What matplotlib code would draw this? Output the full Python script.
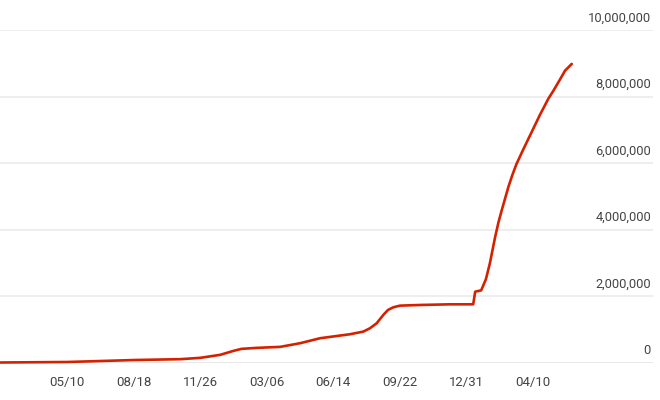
import pandas as pd
import numpy as np
import matplotlib.pyplot as plt
import matplotlib.dates as mdates

# cumulative total (millions)
dates = ['2020-01-31', '2020-05-10', '2020-08-20', '2020-10-27', '2020-11-26',
         '2020-12-26', '2021-01-15', '2021-01-27', '2021-02-19', '2021-03-26',
         '2021-04-25', '2021-05-25', '2021-06-24', '2021-07-09', '2021-07-29',
         '2021-08-08', '2021-08-18', '2021-08-28', '2021-09-04', '2021-09-12',
         '2021-09-22', '2021-10-22', '2021-12-06', '2022-01-10', '2022-01-13',
         '2022-01-22', '2022-01-29', '2022-02-04', '2022-02-12', '2022-02-17',
         '2022-02-22', '2022-03-04', '2022-03-10', '2022-03-16', '2022-03-26',
         '2022-04-08', '2022-04-20', '2022-05-03', '2022-05-10', '2022-05-20',
         '2022-05-28', '2022-06-07']
values_m = [0.0, 0.015, 0.075, 0.10, 0.14,
            0.23, 0.35, 0.41, 0.44, 0.47,
            0.58, 0.73, 0.81, 0.85, 0.93,
            1.03, 1.18, 1.43, 1.58, 1.66,
            1.71, 1.73, 1.75, 1.75, 2.13,
            2.17, 2.50, 2.98, 3.78, 4.22,
            4.59, 5.29, 5.65, 5.97, 6.40,
            6.94, 7.44, 7.94, 8.16, 8.50,
            8.78, 8.98]

tick_dates = ['2020-05-10', '2020-08-18', '2020-11-26', '2021-03-06',
              '2021-06-14', '2021-09-22', '2021-12-31', '2022-04-10']
y_ticks = [0, 2000000, 4000000, 6000000, 8000000, 10000000]

x = pd.to_datetime(dates)
y = np.array(values_m) * 1e6

fam = ['Roboto', 'DejaVu Sans']
txt_color = '#444444'

fig = plt.figure(figsize=(6.6, 4), dpi=100)
ax = fig.add_axes([0, 37.5 / 400, 653 / 660, 332.5 / 400])

ax.plot(x, y, color='#d62100', lw=1.9, solid_joinstyle='round',
        solid_capstyle='round', clip_on=False, zorder=3)

ref = pd.Timestamp('2020-05-10')
ax.set_xlim(ref - pd.Timedelta(days=100.6), ref + pd.Timedelta(days=880))
ax.set_ylim(0, 10000000)

ax.set_yticks(y_ticks)
ax.grid(axis='y', color='#ebebeb', lw=1.2)
ax.axhline(0, color='#d9d9d9', lw=1.4, zorder=1)
ax.tick_params(axis='y', length=0, labelleft=False)
for v in y_ticks:
    ax.annotate(f'{v:,}', xy=(651 / 653, v), xycoords=('axes fraction', 'data'),
                xytext=(0, 12), textcoords='offset pixels', ha='right', va='center',
                fontsize=9.3, color=txt_color, family=fam)

ax.set_xticks(pd.to_datetime(tick_dates))
ax.xaxis.set_major_formatter(mdates.DateFormatter('%m/%d'))
ax.tick_params(axis='x', length=0, pad=9.5, labelsize=9.5, labelcolor=txt_color)
for lbl in ax.get_xticklabels():
    lbl.set_family(fam)

for s in ax.spines.values():
    s.set_visible(False)

fig.savefig('out.png', dpi=100)
